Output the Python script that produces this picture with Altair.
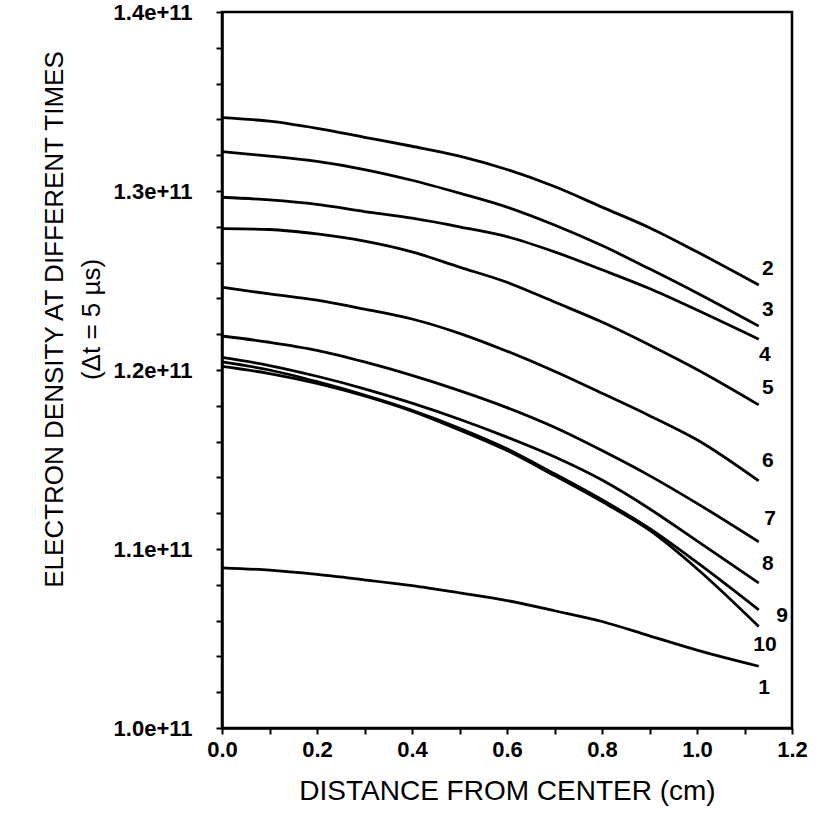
import altair as alt
import pandas as pd

# distance from center (cm)
x_cm = [0.0, 0.1, 0.2, 0.3, 0.4, 0.5, 0.6, 0.7, 0.8, 0.9, 1.0, 1.13]

# electron density in units of 1e11
curve_1 = [1.0895, 1.0882, 1.0858, 1.0828, 1.0795, 1.0755, 1.0712, 1.0655, 1.0595, 1.0515, 1.0435, 1.0345]
curve_2 = [1.341, 1.339, 1.335, 1.330, 1.325, 1.3195, 1.312, 1.3025, 1.291, 1.2795, 1.266, 1.2475]
curve_3 = [1.322, 1.3195, 1.3165, 1.312, 1.306, 1.2988, 1.291, 1.281, 1.2695, 1.2565, 1.243, 1.2245]
curve_4 = [1.2965, 1.295, 1.2925, 1.2885, 1.2848, 1.28, 1.2745, 1.266, 1.256, 1.2455, 1.2335, 1.2172]
curve_5 = [1.279, 1.2785, 1.276, 1.272, 1.266, 1.2575, 1.249, 1.238, 1.2268, 1.214, 1.2003, 1.1805]
curve_6 = [1.2462, 1.2425, 1.239, 1.234, 1.2285, 1.2205, 1.2105, 1.1993, 1.187, 1.1745, 1.161, 1.138]
curve_7 = [1.219, 1.2155, 1.211, 1.2045, 1.197, 1.1885, 1.179, 1.168, 1.155, 1.141, 1.1255, 1.104]
curve_8 = [1.207, 1.2025, 1.1965, 1.1895, 1.1815, 1.1725, 1.1625, 1.1515, 1.1385, 1.1225, 1.1045, 1.081]
curve_9 = [1.2045, 1.2, 1.1935, 1.186, 1.1775, 1.1675, 1.156, 1.142, 1.1275, 1.1115, 1.0925, 1.066]
curve_10 = [1.202, 1.198, 1.1925, 1.1855, 1.177, 1.1665, 1.155, 1.141, 1.1265, 1.1105, 1.089, 1.0567]

curves = {
    "1": curve_1, "2": curve_2, "3": curve_3, "4": curve_4, "5": curve_5,
    "6": curve_6, "7": curve_7, "8": curve_8, "9": curve_9, "10": curve_10,
}

# curve labels near the right ends
label_text = ["2", "3", "4", "5", "6", "7", "8", "9", "10", "1"]
label_x = [1.149, 1.149, 1.143, 1.149, 1.149, 1.154, 1.149, 1.179, 1.143, 1.141]
label_y = [1.2567, 1.2333, 1.2083, 1.19, 1.1489, 1.1167, 1.0917, 1.0628, 1.0461, 1.0222]

rows = []
for name, vals in curves.items():
    for xv, yv in zip(x_cm, vals):
        rows.append({"curve": name, "x": xv, "y": yv})
df = pd.DataFrame(rows)
lab = pd.DataFrame({"t": label_text, "x": label_x, "y": label_y})

FONT = "Liberation Sans"
x_ticks = [round(i * 0.1, 1) for i in range(13)]
y_ticks = [round(1.0 + i * 0.02, 2) for i in range(21)]

xs = alt.Scale(domain=[0, 1.2], nice=False, zero=False)
ys = alt.Scale(domain=[1.0, 1.4], nice=False, zero=False)

x_axis = alt.Axis(
    values=x_ticks,
    labelExpr="abs(datum.value*5 - round(datum.value*5)) < 0.001 ? format(datum.value, '.1f') : ''",
    labelOverlap=False,
    title="DISTANCE FROM CENTER (cm)",
    titleFontSize=28, titleFontWeight="normal", titleFont=FONT, titlePadding=17,
    labelFontSize=22, labelFont=FONT, labelFontWeight="bold", labelPadding=5, labelColor="black",
    tickSize=6, tickWidth=2, tickColor="black", grid=False,
    domainColor="black", domainWidth=2.5, labelFlush=False,
)
y_axis = alt.Axis(
    values=y_ticks,
    labelExpr="abs(datum.value*10 - round(datum.value*10)) < 0.001 ? format(datum.value, '.1f') + 'e+11' : ''",
    labelOverlap=False,
    title=["ELECTRON DENSITY AT DIFFERENT TIMES", "(\u0394t = 5 \u00b5s)"],
    titleFontSize=26, titleFontWeight="normal", titleFont=FONT,
    titleX=-168, titleY=307, titleBaseline="middle", titleLineHeight=37,
    labelFontSize=22, labelFont=FONT, labelFontWeight="bold", labelPadding=24, labelColor="black",
    tickSize=6, tickWidth=2, tickColor="black", grid=False,
    domainColor="black", domainWidth=2.5, labelFlush=False,
)

lines = alt.Chart(df).mark_line(color="black", strokeWidth=2.8, interpolate="monotone").encode(
    x=alt.X("x:Q", scale=xs, axis=x_axis),
    y=alt.Y("y:Q", scale=ys, axis=y_axis),
    detail="curve:N",
)

texts = alt.Chart(lab).mark_text(font=FONT, fontSize=21, fontWeight="bold", color="black",
                                 align="center", baseline="middle").encode(
    x=alt.X("x:Q", scale=xs, axis=x_axis),
    y=alt.Y("y:Q", scale=ys, axis=y_axis),
    text="t:N",
)

chart = alt.layer(lines, texts).properties(
    width=570, height=716,
    background="white",
    autosize=alt.AutoSizeParams(type="none"),
    padding={"left": 222, "top": 12, "right": 28, "bottom": 99},
).configure_view(stroke="black", strokeWidth=2.5)

chart.save("out.html", embed_options={"renderer": "svg", "actions": False})
